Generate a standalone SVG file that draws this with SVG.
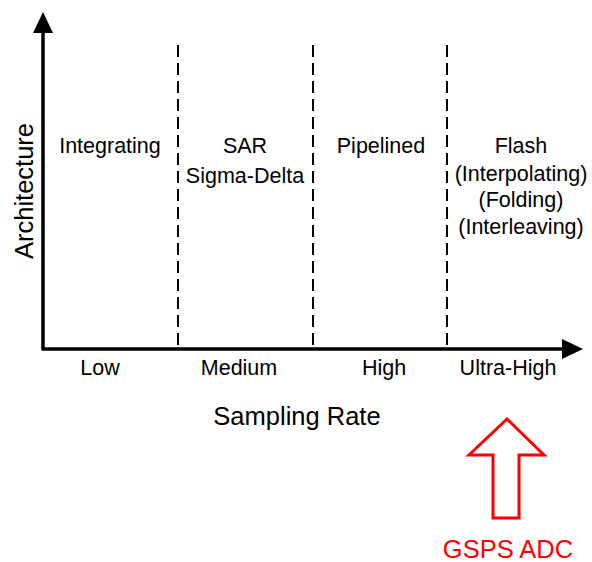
<svg xmlns="http://www.w3.org/2000/svg" width="592" height="562" viewBox="0 0 592 562">
<style>
text{font-family:"Liberation Sans",Arial,sans-serif;fill:#000;text-anchor:middle}
.lab{font-size:21.5px}
.ax{stroke:#000;stroke-width:3.5;fill:none}
.dash{stroke:#000;stroke-width:2;stroke-dasharray:12,6;fill:none}
</style>
<rect width="592" height="562" fill="#fff"/>
<g id="connectors">
<path class="ax" d="M43,349 V32"/>
<polygon points="43,12 33,33 53,33" fill="#000"/>
<path class="ax" d="M41.5,349 H564"/>
<polygon points="583,349 562,339 562,359" fill="#000"/>
<path class="dash" d="M178,45 V349"/>
<path class="dash" d="M313,45 V349"/>
<path class="dash" d="M447,45 V349"/>
</g>
<g id="y-axis-label"><text style="font-size:25.5px" transform="translate(33,191) rotate(-90)">Architecture</text></g>
<g id="x-axis-label"><text style="font-size:25.5px" x="297" y="425">Sampling Rate</text></g>
<g id="integrating"><text class="lab" x="110" y="153">Integrating</text></g>
<g id="sar"><text class="lab" x="245" y="153">SAR</text><text class="lab" x="245" y="183">Sigma-Delta</text></g>
<g id="pipelined"><text class="lab" x="381" y="153">Pipelined</text></g>
<g id="flash"><text class="lab" x="521" y="153">Flash</text><text class="lab" x="521" y="181">(Interpolating)</text><text class="lab" x="521" y="207">(Folding)</text><text class="lab" x="521" y="234">(Interleaving)</text></g>
<g id="low"><text class="lab" x="100" y="375">Low</text></g>
<g id="medium"><text class="lab" x="239" y="375">Medium</text></g>
<g id="high"><text class="lab" x="384" y="375">High</text></g>
<g id="ultra-high"><text class="lab" x="508" y="375">Ultra-High</text></g>
<g id="gsps-arrow"><polygon points="507,419 544,455 519,455 519,518 493,518 493,455 469,455" fill="none" stroke="#f00" stroke-width="3" stroke-linejoin="miter"/></g>
<g id="gsps-label"><text style="font-size:25.5px;fill:#f00" x="508" y="558">GSPS ADC</text></g>
</svg>
